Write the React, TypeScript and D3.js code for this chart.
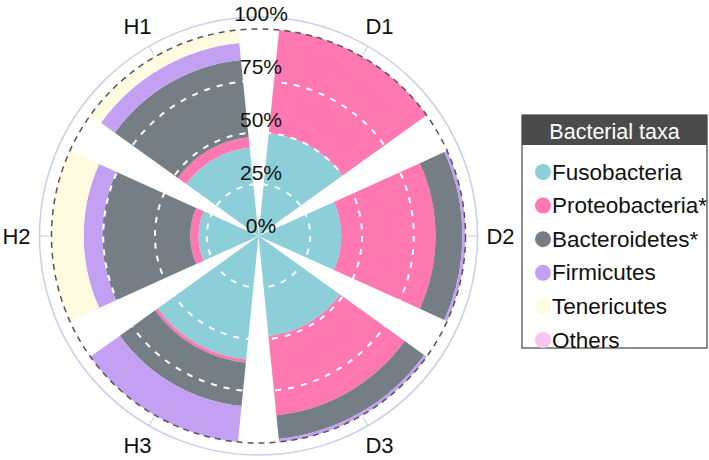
import React, { useEffect, useRef } from 'react';
import * as d3 from 'd3';

// samples, clockwise from the top
const samples = ['D1', 'D2', 'D3', 'H3', 'H2', 'H1'];
const taxa = ['Fusobacteria', 'Proteobacteria*', 'Bacteroidetes*', 'Firmicutes', 'Tenericutes', 'Others'];
const taxaColors = ['#8dcfd8', '#ff78b1', '#767e85', '#c4a0f2', '#fffbe0', '#f7c5ee'];

// relative abundance per sample (same order as samples)
const fusobacteria = [0.5, 0.4, 0.485, 0.6, 0.29, 0.43];
const proteobacteria = [0.5, 0.455, 0.385, 0.015, 0.04, 0.05];
const bacteroidetes = [0, 0.13, 0.115, 0.21, 0.425, 0.375];
const firmicutes = [0, 0.015, 0.015, 0.175, 0.09, 0.082];
const tenericutes = [0, 0, 0, 0, 0.155, 0.063];
const others = [0, 0, 0, 0, 0, 0];

const gridTicks = [0.25, 0.5, 0.75];
const axisLabels = [0, 0.25, 0.5, 0.75, 1];

export default function App() {
  const ref = useRef<SVGSVGElement>(null);

  useEffect(() => {
    const width = 709;
    const height = 460;
    const cx = 258.5;
    const cy = 236;
    const font = '"Liberation Sans", Arial, sans-serif';

    const svg = d3.select(ref.current);
    svg.selectAll('*').remove();

    const rows = samples.map((s, i) => ({
      sample: s,
      Fusobacteria: fusobacteria[i],
      'Proteobacteria*': proteobacteria[i],
      'Bacteroidetes*': bacteroidetes[i],
      Firmicutes: firmicutes[i],
      Tenericutes: tenericutes[i],
      Others: others[i]
    }));

    // angle scale
    const x = d3.scaleBand()
      .domain(samples)
      .range([0, 2 * Math.PI])
      .paddingInner(0.19)
      .paddingOuter(0.095);

    // radius scale
    const y = d3.scaleLinear().domain([0, 1]).range([0, 207]);

    const stacked = d3.stack().keys(taxa)(rows as any);

    const g = svg.append('g').attr('transform', `translate(${cx},${cy})`);

    // outer frame
    g.append('circle')
      .attr('r', 219)
      .attr('fill', 'none')
      .attr('stroke', '#c6d0ea')
      .attr('stroke-width', 1.5);

    const arc = d3.arc<any>()
      .innerRadius((d: any) => y(d[0]))
      .outerRadius((d: any) => y(d[1]))
      .startAngle((d: any) => x(d.data.sample) as number)
      .endAngle((d: any) => (x(d.data.sample) as number) + x.bandwidth());

    stacked.forEach((layer, li) => {
      g.append('g')
        .selectAll('path')
        .data(layer.filter((d: any) => d[1] - d[0] > 0))
        .enter()
        .append('path')
        .attr('d', arc)
        .attr('fill', taxaColors[li]);
    });

    // white dashed grid
    g.append('g')
      .selectAll('circle')
      .data(gridTicks)
      .enter()
      .append('circle')
      .attr('r', (d) => y(d))
      .attr('fill', 'none')
      .attr('stroke', '#fff')
      .attr('stroke-width', 2)
      .attr('stroke-dasharray', '6,7');

    // 100% line
    g.append('circle')
      .attr('r', y(1))
      .attr('fill', 'none')
      .attr('stroke', '#555')
      .attr('stroke-width', 1.5)
      .attr('stroke-dasharray', '6,5');

    // ticks and sample labels
    samples.forEach((s) => {
      const a = (x(s) as number) + x.bandwidth() / 2;
      const sx = Math.sin(a);
      const sy = -Math.cos(a);
      g.append('line')
        .attr('x1', sx * 209).attr('y1', sy * 209)
        .attr('x2', sx * 219).attr('y2', sy * 219)
        .attr('stroke', '#c8c8c8')
        .attr('stroke-width', 1);
      g.append('text')
        .attr('x', sx * 242)
        .attr('y', sy * 242)
        .attr('dy', '0.35em')
        .attr('text-anchor', 'middle')
        .style('font-family', font)
        .style('font-size', '22px')
        .attr('fill', '#111')
        .text(s);
    });

    // radial axis labels
    g.append('g')
      .selectAll('text')
      .data(axisLabels)
      .enter()
      .append('text')
      .attr('x', 2.5)
      .attr('y', (d) => -y(d) - 3 - 5 * d)
      .attr('text-anchor', 'middle')
      .style('font-family', font)
      .style('font-size', '21px')
      .attr('fill', '#111')
      .text((d) => d3.format('.0%')(d));

    // legend
    const lg = svg.append('g').attr('transform', 'translate(522,115)');
    lg.append('rect')
      .attr('width', 185).attr('height', 233)
      .attr('fill', '#fff')
      .attr('stroke', '#444').attr('stroke-width', 1.2);
    lg.append('rect')
      .attr('width', 185).attr('height', 30)
      .attr('fill', '#4a4a4a');
    lg.append('text')
      .attr('x', 92.5).attr('y', 24)
      .attr('text-anchor', 'middle')
      .style('font-family', font)
      .style('font-size', '21.5px')
      .attr('fill', '#fff')
      .text('Bacterial taxa');

    const item = lg.selectAll('g.item')
      .data(taxa)
      .enter()
      .append('g')
      .attr('class', 'item')
      .attr('transform', (d, i) => `translate(0,${57 + i * 33.6})`);
    item.append('circle')
      .attr('cx', 21).attr('r', 8)
      .attr('fill', (d, i) => taxaColors[i]);
    item.append('text')
      .attr('x', 30).attr('y', 7.5)
      .style('font-family', font)
      .style('font-size', '22.5px')
      .attr('fill', '#111')
      .text((d) => d);

    svg.attr('width', width).attr('height', height);
  }, []);

  return (
    <svg ref={ref} width={709} height={460}
      style={{ position: 'absolute', left: 0, top: 0, background: '#fff' }} />
  );
}
